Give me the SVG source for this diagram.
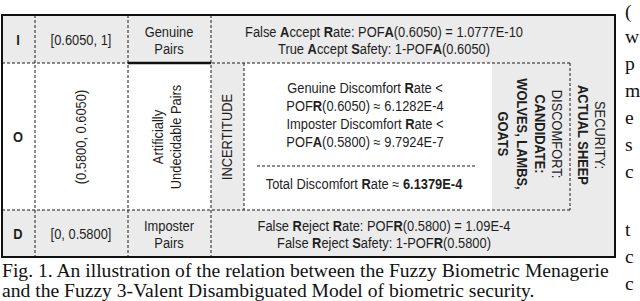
<svg xmlns="http://www.w3.org/2000/svg" width="640" height="301" viewBox="0 0 640 301">
<style>
.g{fill:#ebebeb}
.d{stroke:#1a1a1a;stroke-width:1;stroke-dasharray:3,2;fill:none}
.t{font-family:"Liberation Sans",Arial,sans-serif;font-size:14px;fill:#1e1e1e;text-anchor:middle}
.b{font-weight:bold}
.cap{font-family:"Liberation Serif","Times New Roman",serif;font-size:19.6px;fill:#111}
</style>
<rect width="640" height="301" fill="#ffffff"/>
<g id="backgrounds">
<rect class="g" x="2" y="15" width="613" height="48"/>
<rect class="g" x="2" y="210" width="613" height="47"/>
<rect class="g" x="211" y="63" width="33" height="147"/>
<rect class="g" x="492" y="63" width="123" height="147"/>
</g>
<g id="connectors">
<line class="d" x1="35" y1="15" x2="35" y2="257"/>
<line class="d" x1="128" y1="15" x2="128" y2="257"/>
<line class="d" x1="211" y1="15" x2="211" y2="257"/>
<line class="d" x1="244" y1="63" x2="244" y2="210"/>
<line class="d" x1="570" y1="63" x2="570" y2="210"/>
<line class="d" x1="2" y1="63" x2="570" y2="63"/>
<line class="d" x1="2" y1="210" x2="570" y2="210"/>
<line class="d" x1="257" y1="166" x2="477" y2="166"/>
<line x1="128" y1="63" x2="211" y2="63" stroke="#111" stroke-width="2.5"/>
<rect x="2" y="15" width="613" height="242" fill="none" stroke="#111" stroke-width="2"/>
</g>
<g id="row-I">
<text class="t b" transform="translate(18,45) scale(0.92,1)">I</text>
<text class="t" transform="translate(81,45) scale(0.92,1)">[0.6050, 1]</text>
<text class="t" transform="translate(169,36.5) scale(0.92,1)">Genuine</text>
<text class="t" transform="translate(169,54) scale(0.92,1)">Pairs</text>
<text class="t" transform="translate(384,36.5) scale(0.92,1)">False <tspan class="b">A</tspan>ccept <tspan class="b">R</tspan>ate: POF<tspan class="b">A</tspan>(0.6050) = 1.0777E-10</text>
<text class="t" transform="translate(384,54) scale(0.92,1)">True <tspan class="b">A</tspan>ccept <tspan class="b">S</tspan>afety: 1-POF<tspan class="b">A</tspan>(0.6050)</text>
</g>
<g id="row-O">
<text class="t b" transform="translate(18,142) scale(0.92,1)">O</text>
<text class="t" transform="translate(86,137) rotate(-90) scale(0.92,1)">(0.5800, 0.6050)</text>
<text class="t" transform="translate(163,137) rotate(-90) scale(0.92,1)">Artificially</text>
<text class="t" transform="translate(181,137) rotate(-90) scale(0.92,1)">Undecidable Pairs</text>
<text class="t" transform="translate(232,137) rotate(-90) scale(0.92,1)">INCERTITUDE</text>
</g>
<g id="discomfort-box">
<text class="t" transform="translate(365,93) scale(0.92,1)">Genuine Discomfort <tspan class="b">R</tspan>ate &lt;</text>
<text class="t" transform="translate(365,111) scale(0.92,1)">POF<tspan class="b">R</tspan>(0.6050) ≈ 6.1282E-4</text>
<text class="t" transform="translate(365,128.5) scale(0.92,1)">Imposter Discomfort <tspan class="b">R</tspan>ate &lt;</text>
<text class="t" transform="translate(365,146.5) scale(0.92,1)">POF<tspan class="b">A</tspan>(0.5800) ≈ 9.7924E-7</text>
<text class="t" transform="translate(364,189) scale(0.92,1)">Total Discomfort <tspan class="b">R</tspan>ate ≈ <tspan class="b">6.1379E-4</tspan></text>
</g>
<g id="candidate">
<text class="t" transform="translate(552,134) rotate(90) scale(0.92,1)">DISCOMFORT:</text>
<text class="t b" transform="translate(535,134) rotate(90) scale(0.92,1)">CANDIDATE:</text>
<text class="t b" transform="translate(517,134) rotate(90) scale(0.92,1)">WOLVES, LAMBS,</text>
<text class="t b" transform="translate(498,134) rotate(90) scale(0.92,1)">GOATS</text>
</g>
<g id="security">
<text class="t" transform="translate(595,135) rotate(90) scale(0.92,1)">SECURITY:</text>
<text class="t b" transform="translate(578,135) rotate(90) scale(0.92,1)">ACTUAL SHEEP</text>
</g>
<g id="row-D">
<text class="t b" transform="translate(18,239) scale(0.92,1)">D</text>
<text class="t" transform="translate(81,239) scale(0.92,1)">[0, 0.5800]</text>
<text class="t" transform="translate(169,231) scale(0.92,1)">Imposter</text>
<text class="t" transform="translate(169,248) scale(0.92,1)">Pairs</text>
<text class="t" transform="translate(384,231) scale(0.92,1)">False <tspan class="b">R</tspan>eject <tspan class="b">R</tspan>ate: POF<tspan class="b">R</tspan>(0.5800) = 1.09E-4</text>
<text class="t" transform="translate(384,248) scale(0.92,1)">False <tspan class="b">R</tspan>eject <tspan class="b">S</tspan>afety: 1-POF<tspan class="b">R</tspan>(0.5800)</text>
</g>
<g id="caption">
<text class="cap" x="2" y="277">Fig. 1. An illustration of the relation between the Fuzzy Biometric Menagerie</text>
<text class="cap" x="2" y="297">and the Fuzzy 3-Valent Disambiguated Model of biometric security.</text>
</g>
<g id="margin-text">
<text class="cap" x="625" y="18">(</text>
<text class="cap" x="625" y="43">w</text>
<text class="cap" x="625" y="70">p</text>
<text class="cap" x="625" y="97">m</text>
<text class="cap" x="625" y="124">e</text>
<text class="cap" x="625" y="151">s</text>
<text class="cap" x="625" y="178">c</text>
<text class="cap" x="625" y="236">t</text>
<text class="cap" x="625" y="263">c</text>
<text class="cap" x="625" y="290">c</text>
</g>
</svg>
